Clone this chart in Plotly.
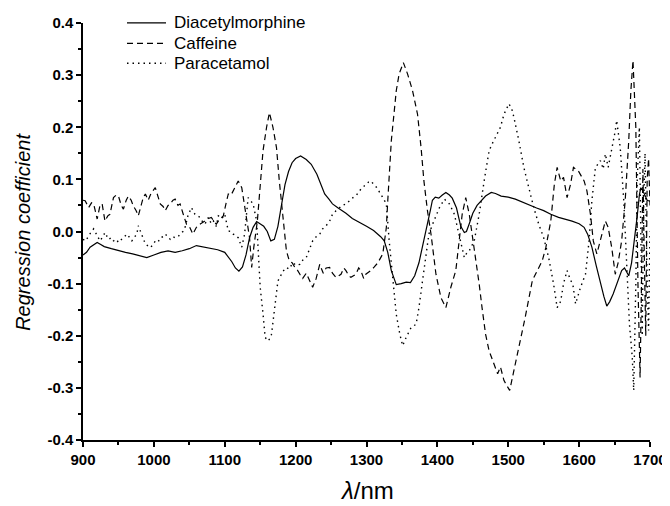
import plotly.graph_objects as go

# ---------------- data ----------------
diacetyl_nm = [900, 905, 910, 915, 920, 925, 930, 940, 950, 960, 970, 980, 990, 1000, 1010, 1020, 1030, 1040,
               1050, 1060, 1070, 1080, 1090, 1100, 1105, 1110, 1115, 1120, 1125, 1130, 1135, 1140, 1145, 1150,
               1155, 1160, 1165, 1170, 1175, 1180, 1185, 1190, 1195, 1200, 1207, 1215, 1222, 1230, 1235, 1241,
               1247, 1252, 1260, 1271, 1280, 1290, 1300, 1310, 1320, 1325, 1330, 1335, 1342, 1349, 1356, 1362,
               1368, 1374, 1380, 1386, 1390, 1393, 1397, 1402, 1407, 1412, 1417, 1421, 1427, 1433, 1438, 1441,
               1445, 1450, 1456, 1462, 1468, 1476, 1482, 1490, 1500, 1510, 1520, 1530, 1540, 1550, 1560, 1571,
               1580, 1590, 1600, 1607, 1612, 1618, 1624, 1630, 1635, 1639, 1643, 1648, 1653, 1657, 1660, 1664,
               1667, 1670, 1674, 1678, 1682, 1685, 1687, 1690, 1693, 1696, 1700]
diacetyl_coef = [-0.045, -0.04, -0.03, -0.026, -0.021, -0.025, -0.029, -0.033, -0.037, -0.04, -0.043, -0.046,
                 -0.05, -0.045, -0.04, -0.037, -0.04, -0.037, -0.033, -0.027, -0.03, -0.033, -0.035, -0.04,
                 -0.048, -0.058, -0.07, -0.076, -0.068, -0.045, -0.012, 0.008, 0.019, 0.015, 0.01, 0.0, -0.018,
                 -0.015, 0.01, 0.05, 0.09, 0.115, 0.132, 0.14, 0.145, 0.138, 0.129, 0.11, 0.091, 0.072, 0.062,
                 0.053, 0.045, 0.035, 0.025, 0.018, 0.01, 0.002, -0.01, -0.018, -0.04, -0.075, -0.102, -0.1,
                 -0.097, -0.098, -0.085, -0.06, -0.025, 0.015, 0.04, 0.06, 0.066, 0.064, 0.07, 0.075, 0.07,
                 0.064, 0.045, 0.01, -0.002, 0.0, 0.015, 0.035, 0.05, 0.06, 0.068, 0.075, 0.073, 0.068, 0.066,
                 0.062, 0.056, 0.05, 0.045, 0.04, 0.033, 0.027, 0.024, 0.02, 0.015, 0.008, -0.005, -0.03,
                 -0.065, -0.1, -0.125, -0.143, -0.135, -0.12, -0.1, -0.085, -0.075, -0.07, -0.078, -0.085,
                 -0.06, -0.02, 0.03, 0.07, 0.084, 0.078, 0.068, 0.06, 0.058]

caffeine_nm = [900, 903, 908, 912, 915, 920, 924, 927, 931, 935, 938, 943, 947, 950, 954, 957, 961, 964, 968,
               971, 975, 978, 982, 985, 988, 992, 995, 997, 1002, 1005, 1009, 1013, 1016, 1020, 1023, 1027,
               1030, 1034, 1037, 1041, 1046, 1050, 1053, 1055, 1060, 1066, 1072, 1077, 1081, 1088, 1092, 1095,
               1098, 1102, 1105, 1109, 1112, 1116, 1119, 1124, 1128, 1131, 1135, 1138, 1141, 1146, 1149, 1154,
               1159, 1163, 1168, 1173, 1177, 1182, 1187, 1191, 1195, 1199, 1203, 1206, 1210, 1215, 1220, 1224,
               1229, 1234, 1239, 1243, 1248, 1252, 1257, 1264, 1268, 1271, 1275, 1278, 1285, 1289, 1292, 1296,
               1299, 1306, 1311, 1316, 1323, 1328, 1330, 1335, 1342, 1346, 1352, 1358, 1365, 1372, 1377, 1381,
               1386, 1391, 1398, 1405, 1412, 1419, 1426, 1431, 1435, 1440, 1445, 1449, 1454, 1459, 1463, 1468,
               1473, 1479, 1485, 1489, 1494, 1502, 1510, 1517, 1524, 1534, 1541, 1548, 1553, 1560, 1565, 1569,
               1574, 1578, 1583, 1588, 1592, 1599, 1607, 1611, 1616, 1620, 1625, 1630, 1637, 1641, 1646, 1651,
               1655, 1660, 1665, 1670, 1673, 1676, 1680, 1683, 1686, 1688, 1690, 1692, 1694, 1696, 1698, 1700]
caffeine_coef = [0.06, 0.059, 0.046, 0.055, 0.053, 0.024, 0.05, 0.053, 0.02, 0.03, 0.033, 0.065, 0.07, 0.068,
                 0.05, 0.043, 0.06, 0.068, 0.06, 0.049, 0.04, 0.03, 0.05, 0.065, 0.072, 0.06, 0.07, 0.075,
                 0.084, 0.07, 0.053, 0.048, 0.04, 0.05, 0.053, 0.06, 0.062, 0.05, 0.053, 0.035, 0.014, 0.01,
                 0.001, -0.005, 0.008, 0.015, 0.02, 0.025, 0.027, 0.014, 0.022, 0.027, 0.03, 0.055, 0.072,
                 0.07, 0.078, 0.09, 0.097, 0.084, 0.046, 0.027, -0.012, -0.069, -0.03, 0.02, 0.078, 0.155,
                 0.2, 0.228, 0.2, 0.161, 0.097, 0.033, -0.037, -0.056, -0.06, -0.069, -0.075, -0.082, -0.09,
                 -0.08, -0.095, -0.107, -0.09, -0.063, -0.08, -0.07, -0.069, -0.08, -0.088, -0.082, -0.07,
                 -0.075, -0.085, -0.088, -0.082, -0.07, -0.075, -0.09, -0.082, -0.075, -0.068, -0.06, -0.043,
                 0.008, 0.059, 0.174, 0.27, 0.302, 0.324, 0.302, 0.27, 0.225, 0.161, 0.097, 0.04, -0.005,
                 -0.082, -0.127, -0.146, -0.107, -0.075, -0.018, 0.033, 0.065, 0.033, -0.005, -0.05, -0.101,
                 -0.146, -0.197, -0.229, -0.25, -0.273, -0.26, -0.286, -0.305, -0.254, -0.209, -0.164, -0.094,
                 -0.075, -0.056, -0.031, 0.02, 0.09, 0.123, 0.097, 0.104, 0.065, 0.091, 0.123, 0.116, 0.097,
                 0.078, 0.033, -0.018, -0.043, -0.018, 0.02, 0.008, -0.031, -0.082, -0.06, -0.018, 0.059,
                 0.174, 0.27, 0.328, 0.2, -0.1, -0.28, -0.1, 0.12, -0.05, -0.2, 0.1, 0.14, 0.05]

paracetamol_nm = [900, 904, 908, 912, 915, 920, 924, 928, 931, 936, 940, 943, 947, 950, 954, 957, 962, 966, 969,
                  973, 976, 978, 981, 983, 988, 992, 995, 999, 1002, 1006, 1009, 1013, 1016, 1020, 1023, 1027,
                  1030, 1034, 1037, 1041, 1044, 1048, 1053, 1058, 1062, 1065, 1069, 1072, 1077, 1081, 1084,
                  1088, 1091, 1096, 1100, 1105, 1109, 1112, 1116, 1119, 1124, 1128, 1133, 1136, 1140, 1145,
                  1147, 1150, 1154, 1157, 1161, 1164, 1166, 1170, 1175, 1180, 1183, 1187, 1191, 1196, 1201,
                  1206, 1210, 1215, 1220, 1224, 1229, 1234, 1238, 1243, 1248, 1252, 1257, 1262, 1266, 1271,
                  1276, 1281, 1286, 1290, 1295, 1299, 1303, 1306, 1310, 1314, 1320, 1328, 1332, 1337, 1342,
                  1347, 1351, 1356, 1363, 1370, 1374, 1379, 1384, 1388, 1395, 1403, 1410, 1417, 1424, 1431,
                  1435, 1438, 1442, 1445, 1452, 1459, 1466, 1473, 1478, 1482, 1486, 1489, 1494, 1501, 1505,
                  1508, 1515, 1522, 1529, 1536, 1543, 1550, 1557, 1564, 1569, 1571, 1574, 1578, 1583, 1588,
                  1591, 1595, 1599, 1602, 1609, 1614, 1618, 1623, 1627, 1630, 1634, 1637, 1641, 1646, 1651,
                  1653, 1658, 1663, 1667, 1671, 1675, 1677, 1680, 1682, 1685, 1687, 1689, 1691, 1693, 1696,
                  1698, 1700]
paracetamol_coef = [-0.015, -0.018, -0.008, 0.0, 0.005, -0.008, -0.018, -0.01, -0.002, -0.015, -0.012, -0.018,
                    -0.015, -0.021, -0.015, -0.012, -0.005, -0.012, -0.018, -0.01, -0.005, 0.011, 0.0, -0.008,
                    -0.024, -0.028, -0.031, -0.025, -0.018, -0.02, -0.012, -0.01, -0.005, -0.01, -0.015, -0.01,
                    -0.012, -0.01, -0.005, 0.0, 0.008, 0.03, 0.046, 0.033, 0.03, 0.027, 0.018, 0.014, 0.027,
                    0.015, 0.02, 0.01, 0.03, 0.025, 0.033, 0.001, 0.0, -0.005, -0.008, -0.012, -0.03, -0.005,
                    0.065, 0.06, 0.053, 0.02, -0.043, -0.107, -0.158, -0.203, -0.21, -0.205, -0.197, -0.146,
                    -0.095, -0.082, -0.075, -0.069, -0.072, -0.06, -0.065, -0.063, -0.055, -0.05, -0.03, -0.018,
                    -0.01, -0.005, 0.005, 0.011, 0.02, 0.033, 0.04, 0.046, 0.05, 0.053, 0.06, 0.065, 0.07, 0.078,
                    0.085, 0.091, 0.095, 0.097, 0.09, 0.085, 0.072, 0.053, -0.018, -0.095, -0.159, -0.197,
                    -0.219, -0.203, -0.184, -0.178, -0.146, -0.095, -0.043, -0.005, 0.02, 0.046, 0.062, 0.053,
                    0.033, -0.01, -0.035, -0.05, -0.04, -0.037, -0.018, 0.033, 0.097, 0.155, 0.17, 0.18, 0.19,
                    0.2, 0.225, 0.245, 0.235, 0.219, 0.174, 0.123, 0.084, 0.046, 0.014, -0.012, -0.05, -0.101,
                    -0.146, -0.14, -0.134, -0.1, -0.075, -0.094, -0.1, -0.139, -0.12, -0.107, -0.082, -0.018,
                    0.059, 0.123, 0.13, 0.136, 0.12, 0.149, 0.123, 0.155, 0.193, 0.213, 0.161, 0.059, -0.069,
                    -0.178, -0.242, -0.305, -0.1, 0.1, 0.2, 0.0, -0.2, 0.05, 0.15, -0.1, -0.19, 0.0]

assert len(diacetyl_nm) == len(diacetyl_coef)
assert len(caffeine_nm) == len(caffeine_coef)
assert len(paracetamol_nm) == len(paracetamol_coef)

series_names = ["Diacetylmorphine", "Caffeine", "Paracetamol"]
x_ticks = [900, 1000, 1100, 1200, 1300, 1400, 1500, 1600, 1700]
y_ticks = [-0.4, -0.3, -0.2, -0.1, 0.0, 0.1, 0.2, 0.3, 0.4]
y_tick_labels = ["-0.4", "-0.3", "-0.2", "-0.1", "0.0", "0.1", "0.2", "0.3", "0.4"]
x_title = "<i>λ</i>/nm"
y_title = "<i>Regression coefficient</i>"

# ---------------- figure ----------------
FONT = "Liberation Sans, Arial, sans-serif"
styles = [dict(color="black", width=1.2),
          dict(color="black", width=1.2, dash="6px,4px"),
          dict(color="black", width=1.4, dash="1.5px,4px")]

fig = go.Figure()
for name, xs, ys, st in zip(series_names,
                            [diacetyl_nm, caffeine_nm, paracetamol_nm],
                            [diacetyl_coef, caffeine_coef, paracetamol_coef], styles):
    fig.add_trace(go.Scatter(x=xs, y=ys, mode="lines", name=name, line=st, showlegend=False))

# legend drawn as line samples + text (compact row spacing like the original)
leg_rows = [1.0005, 0.9513, 0.9033]
for name, yrow, st in zip(series_names, leg_rows, styles):
    fig.add_shape(type="line", xref="paper", yref="paper", x0=0.0776, x1=0.1464, y0=yrow, y1=yrow,
                  line=st)
    fig.add_annotation(xref="paper", yref="paper", x=0.1565, y=yrow, xanchor="left", yanchor="middle",
                       text=name, showarrow=False, font=dict(family=FONT, size=17, color="black"))

# axis titles (kept fully inside the figure)
fig.add_annotation(xref="paper", yref="paper", x=0.5, y=-0.12, xanchor="center", yanchor="middle",
                   text=x_title, showarrow=False, font=dict(family=FONT, size=24, color="black"))
fig.add_annotation(xref="paper", yref="paper", x=-0.107, y=0.5, xanchor="center", yanchor="middle",
                   text=y_title, textangle=-90, showarrow=False,
                   font=dict(family=FONT, size=20, color="black"))

axis_common = dict(showline=True, linecolor="black", linewidth=1.5, ticks="outside", ticklen=5,
                   tickwidth=1.5, tickcolor="black", showgrid=False, zeroline=False, mirror=False,
                   automargin=False,
                   tickfont=dict(family=FONT, size=15, color="black", weight="bold"))

# the page body has an 8px margin, so the figure is drawn 8px in from the window's top-left corner
fig.update_layout(
    width=662, height=498,
    margin=dict(l=75, r=20, t=15, b=66),
    paper_bgcolor="white", plot_bgcolor="white",
    font=dict(family=FONT, color="black"),
    xaxis=dict(range=[900, 1700], tickvals=x_ticks, ticktext=[str(v) for v in x_ticks],
               minor=dict(dtick=50, ticks="outside", ticklen=3, tickwidth=1.5, tickcolor="black"),
               **axis_common),
    yaxis=dict(range=[-0.4, 0.4], tickvals=y_ticks, ticktext=y_tick_labels,
               minor=dict(dtick=0.05, tick0=0, ticks="outside", ticklen=3, tickwidth=1.5, tickcolor="black"),
               **axis_common),
)

fig.write_html("out.html")
